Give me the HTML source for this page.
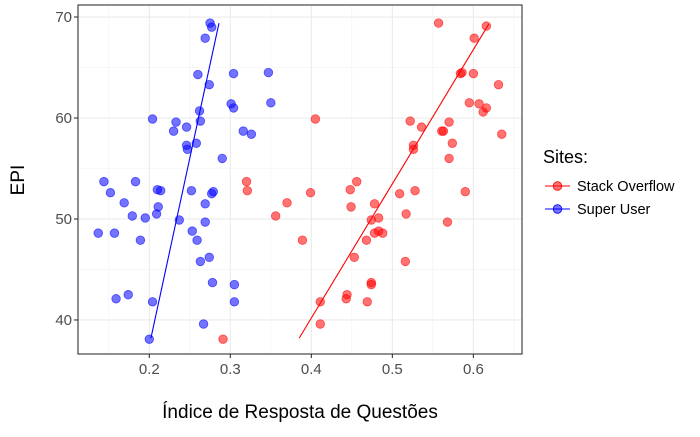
<!DOCTYPE html>
<html><head><meta charset="utf-8"><style>
body{margin:0;background:#fff;width:700px;height:432px;overflow:hidden;font-family:"Liberation Sans",sans-serif}
</style></head><body>
<svg id="chart" width="700" height="432" xmlns="http://www.w3.org/2000/svg" font-family="Liberation Sans, sans-serif"></svg>
<script>
const xTicks=[0.2,0.3,0.4,0.5,0.6];
const yTicks=[40,50,60,70];
const xMinor=[0.15,0.25,0.35,0.45,0.55,0.65];
const yMinor=[45,55,65];
const blueX=[0.275,0.277,0.269,0.260,0.304,0.347,0.274,0.301,0.304,0.350,0.262,0.204,0.233,0.263,0.230,0.246,0.316,0.326,0.246,0.247,0.258,0.290,0.144,0.183,0.152,0.210,0.214,0.252,0.277,0.279,0.169,0.269,0.211,0.209,0.179,0.195,0.237,0.269,0.137,0.157,0.253,0.189,0.259,0.263,0.274,0.278,0.305,0.159,0.174,0.204,0.305,0.267,0.200];
const blueY=[69.4,69.0,67.9,64.3,64.4,64.5,63.3,61.4,61.0,61.5,60.7,59.9,59.6,59.7,58.7,59.1,58.7,58.4,57.3,56.9,57.5,56.0,53.7,53.7,52.6,52.9,52.8,52.8,52.5,52.7,51.6,51.5,51.2,50.5,50.3,50.1,49.9,49.7,48.6,48.6,48.8,47.9,47.9,45.8,46.2,43.7,43.5,42.1,42.5,41.8,41.8,39.6,38.1];
const redX=[0.557,0.616,0.601,0.584,0.586,0.600,0.631,0.595,0.607,0.612,0.616,0.405,0.522,0.536,0.570,0.561,0.563,0.635,0.526,0.526,0.574,0.570,0.456,0.448,0.399,0.509,0.528,0.590,0.370,0.478,0.449,0.483,0.474,0.517,0.568,0.478,0.483,0.488,0.389,0.468,0.453,0.516,0.474,0.474,0.444,0.443,0.411,0.469,0.411,0.320,0.321,0.356,0.291];
const redY=[69.4,69.1,67.9,64.4,64.5,64.4,63.3,61.5,61.4,60.6,61.0,59.9,59.7,59.1,59.6,58.7,58.7,58.4,57.3,56.9,57.5,56.0,53.7,52.9,52.6,52.5,52.8,52.7,51.6,51.5,51.2,50.1,49.9,50.5,49.7,48.6,48.8,48.6,47.9,47.9,46.2,45.8,43.7,43.5,42.5,42.1,41.8,41.8,39.6,53.7,52.8,50.3,38.1];
const blueLineX=[0.202,0.286];
const blueLineY=[38.2,69.4];
const redLineX=[0.385,0.619];
const redLineY=[38.2,69.3];

const NS="http://www.w3.org/2000/svg";
const svg=document.getElementById('chart');
const L=78,R=522,T=5,B=354;
const xmin=0.112,xmax=0.660,ymin=36.63,ymax=71.19;
const sx=v=>L+(v-xmin)/(xmax-xmin)*(R-L);
const sy=v=>B-(v-ymin)/(ymax-ymin)*(B-T);
function mk(tag,attrs){const e=document.createElementNS(NS,tag);for(const k in attrs)e.setAttribute(k,attrs[k]);svg.appendChild(e);return e;}

let bg=mk('rect',{x:L,y:T,width:R-L,height:B-T,fill:'#fff'});


xMinor.forEach(v=>{const l=mk('line',{x1:sx(v),x2:sx(v),y1:T,y2:B,stroke:'#f1f1f1','stroke-width':0.6});

});
yMinor.forEach(v=>{const l=mk('line',{x1:L,x2:R,y1:sy(v),y2:sy(v),stroke:'#f1f1f1','stroke-width':0.6});

});
xTicks.forEach(v=>{const l=mk('line',{x1:sx(v),x2:sx(v),y1:T,y2:B,stroke:'#ebebeb','stroke-width':1.1});


mk('line',{x1:sx(v),x2:sx(v),y1:B,y2:B+4,stroke:'#333','stroke-width':1.1});
const t=mk('text',{x:sx(v),y:B+20,'text-anchor':'middle','font-size':15,fill:'#4d4d4d'});t.textContent=v.toFixed(1);

});
yTicks.forEach(v=>{const l=mk('line',{x1:L,x2:R,y1:sy(v),y2:sy(v),stroke:'#ebebeb','stroke-width':1.1});


mk('line',{x1:L-4,x2:L,y1:sy(v),y2:sy(v),stroke:'#333','stroke-width':1.1});
const t=mk('text',{x:L-6,y:sy(v)+5,'text-anchor':'end','font-size':15,fill:'#4d4d4d'});t.textContent=v;

});

function pts(xs,ys,col,name){xs.forEach((x,i)=>{const c=mk('circle',{cx:sx(x),cy:sy(ys[i]),r:4.3,fill:col,'fill-opacity':0.55,stroke:col,'stroke-opacity':0.6,'stroke-width':0.8});

});}
pts(redX,redY,'#ff0000','stack-overflow-point');
pts(blueX,blueY,'#0000ff','super-user-point');
let bl=mk('line',{x1:sx(blueLineX[0]),y1:sy(blueLineY[0]),x2:sx(blueLineX[1]),y2:sy(blueLineY[1]),stroke:'#0000ff','stroke-width':1.1});


let rl=mk('line',{x1:sx(redLineX[0]),y1:sy(redLineY[0]),x2:sx(redLineX[1]),y2:sy(redLineY[1]),stroke:'#ff0000','stroke-width':1.1});


let bd=mk('rect',{x:L,y:T,width:R-L,height:B-T,fill:'none',stroke:'#333','stroke-width':1.1});



let xt=mk('text',{x:300,y:418,'text-anchor':'middle','font-size':19,fill:'#000'});xt.textContent='Índice de Resposta de Questões';


let yt=mk('text',{x:24,y:180,'text-anchor':'middle','font-size':19,fill:'#000',transform:'rotate(-90 24 180)'});yt.textContent='EPI';


let lt=mk('text',{x:543,y:163,'font-size':18,fill:'#000'});lt.textContent='Sites:';


[['Stack Overflow','#ff0000',186],['Super User','#0000ff',209]].forEach(([n,c,y])=>{
const g=document.createElementNS(NS,'g');svg.appendChild(g);


g.innerHTML=`<line x1="545" x2="570" y1="${y}" y2="${y}" stroke="${c}" stroke-width="1.1"/><circle cx="557.5" cy="${y}" r="4.3" fill="${c}" fill-opacity="0.55" stroke="${c}" stroke-width="0.8"/><text x="577" y="${y+5}" font-size="14.5" fill="#000">${n}</text>`;});
</script>
</body></html>
